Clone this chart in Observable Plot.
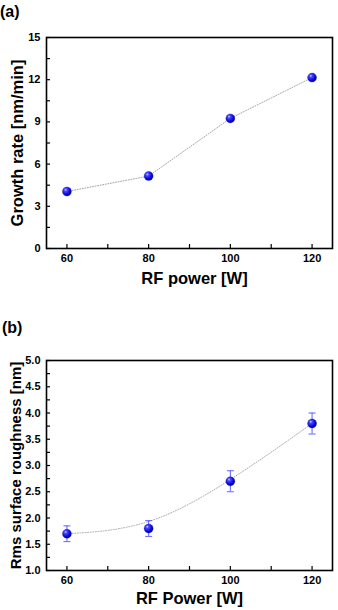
<!DOCTYPE html>
<html>
<head>
<meta charset="utf-8">
<script src="https://cdn.jsdelivr.net/npm/d3@7"></script>
<script src="https://cdn.jsdelivr.net/npm/@observablehq/plot@0.6"></script>
<style>
  body { margin: 0; background: #fff; width: 338px; height: 610px; position: relative; overflow: hidden;
         font-family: "Liberation Sans", Arial, sans-serif; }
  .tag { position: absolute; font-weight: bold; font-size: 16px; line-height: 1; }
  .panel { position: absolute; left: 0; }
</style>
</head>
<body>
<div class="tag" style="left:0px;top:4px">(a)</div>
<div class="panel" id="panelA" style="top:20px"></div>
<div class="tag" style="left:2px;top:320px">(b)</div>
<div class="panel" id="panelB" style="top:340px"></div>
<script>
// Panel (a): growth rate vs RF power
const powerA = [60, 80, 100, 120];
const growthRate = [4.05, 5.15, 9.25, 12.15];
const yTicksA = [0, 3, 6, 9, 12, 15];

// Panel (b): RMS surface roughness vs RF power, with error bars
const powerB = [60, 80, 100, 120];
const roughness = [1.7, 1.8, 2.7, 3.8];
const roughnessErr = [0.15, 0.15, 0.2, 0.2];
const yTicksB = [1.0, 1.5, 2.0, 2.5, 3.0, 3.5, 4.0, 4.5, 5.0];

const xTicks = [60, 80, 100, 120];
const xMinor = [60, 70, 80, 90, 100, 110, 120];

const dataA = powerA.map((p, i) => ({power: p, rate: growthRate[i]}));
const dataB = powerB.map((p, i) => ({power: p, rms: roughness[i], err: roughnessErr[i]}));

const TICK = 4; // inward tick length, px

// horizontal bar used as the error-bar cap
const capSymbol = {
  draw(ctx, size) {
    const w = Math.sqrt(size / Math.PI);
    ctx.moveTo(-w, 0);
    ctx.lineTo(w, 0);
  }
};

// shaded blue sphere for the markers
function addBallGradient(svg, id) {
  d3.select(svg).insert("defs", ":first-child").html(`
    <radialGradient id="${id}" cx="38%" cy="35%" r="70%" fx="35%" fy="30%">
      <stop offset="0%" stop-color="#d8d8ff"/>
      <stop offset="22%" stop-color="#4a4aff"/>
      <stop offset="65%" stop-color="#0a0ae0"/>
      <stop offset="100%" stop-color="#00008c"/>
    </radialGradient>`);
}

// inward ticks on the bottom and left edges of the frame
function inwardTicks(xs, ys, innerW, innerH) {
  return [
    Plot.tickX(xs, {x: d => d, insetTop: innerH - TICK, stroke: "black", strokeWidth: 1.2}),
    Plot.tickY(ys, {y: d => d, insetRight: innerW - TICK, stroke: "black", strokeWidth: 1.2})
  ];
}

const baseStyle = {fontFamily: "'Liberation Sans', Arial, sans-serif", fontWeight: "bold",
                   color: "black", background: "white", overflow: "visible"};

const A = {width: 338, height: 275, top: 17, bottom: 47, left: 46, right: 6};
const chartA = Plot.plot({
  width: A.width, height: A.height,
  marginTop: A.top, marginBottom: A.bottom, marginLeft: A.left, marginRight: A.right,
  style: baseStyle,
  x: {domain: [55, 125], axis: null},
  y: {domain: [0, 15], axis: null},
  marks: [
    Plot.line(dataA, {x: "power", y: "rate", stroke: "#9a9a9a", strokeWidth: 0.9, strokeDasharray: "1,1.6"}),
    Plot.dot(dataA, {x: "power", y: "rate", r: 4.5, fill: "url(#ballA)", stroke: "#00009a", strokeWidth: 0.3}),
    Plot.axisX(xTicks, {tickSize: 0, tickPadding: 6, fontSize: 11, fontWeight: "bold", label: null}),
    Plot.axisY(yTicksA, {tickSize: 0, tickPadding: 6, fontSize: 11, fontWeight: "bold", label: null}),
    ...inwardTicks(xMinor, d3.range(0, 15.01, 1.5),
                   A.width - A.left - A.right, A.height - A.top - A.bottom),
    Plot.text(["RF power [W]"], {frameAnchor: "bottom", dy: 30, dx: 5, lineAnchor: "middle",
                                  textAnchor: "middle", fontSize: 16.5, fontWeight: "bold"}),
    Plot.text(["Growth rate [nm/min]"], {frameAnchor: "left", rotate: -90, dx: -29, textAnchor: "middle",
                                          lineAnchor: "middle", fontSize: 16.5, fontWeight: "bold"}),
    Plot.frame({stroke: "black", strokeWidth: 1.6})
  ]
});
addBallGradient(chartA, "ballA");
document.getElementById("panelA").append(chartA);

const B = {width: 338, height: 270, top: 20, bottom: 40, left: 46, right: 6};
const chartB = Plot.plot({
  width: B.width, height: B.height,
  marginTop: B.top, marginBottom: B.bottom, marginLeft: B.left, marginRight: B.right,
  style: baseStyle,
  x: {domain: [55, 125], axis: null},
  y: {domain: [1, 5], axis: null},
  marks: [
    Plot.line(dataB, {x: "power", y: "rms", curve: "basis", stroke: "#a0a0a0", strokeWidth: 0.9, strokeDasharray: "1,1.6"}),
    Plot.ruleX(dataB, {x: "power", y1: d => d.rms - d.err, y2: d => d.rms + d.err, stroke: "#6060ff", strokeWidth: 1}),
    Plot.dot(dataB, {x: "power", y: d => d.rms + d.err, symbol: capSymbol, r: 3.5, fill: "none", stroke: "#6060ff", strokeWidth: 1}),
    Plot.dot(dataB, {x: "power", y: d => d.rms - d.err, symbol: capSymbol, r: 3.5, fill: "none", stroke: "#6060ff", strokeWidth: 1}),
    Plot.dot(dataB, {x: "power", y: "rms", r: 4.5, fill: "url(#ballB)", stroke: "#00009a", strokeWidth: 0.3}),
    Plot.axisX(xTicks, {tickSize: 0, tickPadding: 6, fontSize: 11, fontWeight: "bold", label: null}),
    Plot.axisY(yTicksB, {tickSize: 0, tickPadding: 6, fontSize: 11, fontWeight: "bold", tickFormat: ".1f", label: null}),
    ...inwardTicks(xMinor, d3.range(1, 5.01, 0.25),
                   B.width - B.left - B.right, B.height - B.top - B.bottom),
    Plot.text(["RF Power [W]"], {frameAnchor: "bottom", dy: 28, lineAnchor: "middle",
                                  textAnchor: "middle", fontSize: 16.5, fontWeight: "bold"}),
    Plot.text(["Rms surface roughness [nm]"], {frameAnchor: "left", rotate: -90, dx: -30, textAnchor: "middle",
                                                lineAnchor: "middle", fontSize: 15, fontWeight: "bold"}),
    Plot.frame({stroke: "black", strokeWidth: 1.6})
  ]
});
addBallGradient(chartB, "ballB");
document.getElementById("panelB").append(chartB);
</script>
</body>
</html>
